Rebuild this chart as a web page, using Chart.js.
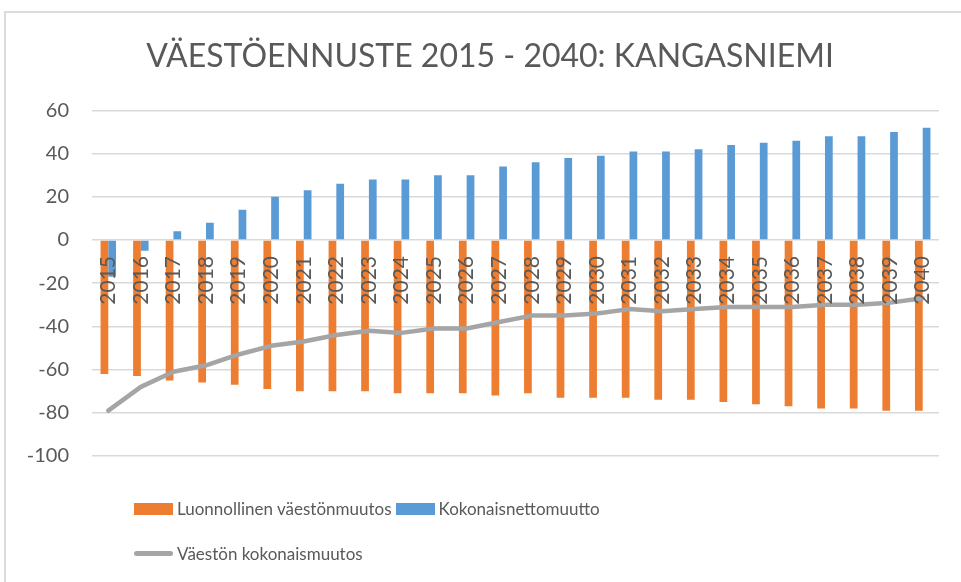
<!DOCTYPE html>
<html>
<head>
<meta charset="utf-8">
<script src="https://cdn.jsdelivr.net/npm/chart.js@4"></script>
<style>
  html, body { margin:0; padding:0; background:#fff; overflow:hidden; }
  #wrap { position:relative; width:961px; height:582px; overflow:hidden; }
  #frame { position:absolute; left:4px; top:11px; width:2000px; height:2000px; border:2px solid #dcdcdc; box-sizing:border-box; }
  #chart-box { position:absolute; left:0; top:0; width:980px; height:582px; }
  .legend-row { position:absolute; left:134px; display:flex; align-items:center; font-family:Lato, "Liberation Sans", sans-serif; font-size:17px; color:#595959; }
  .legend-item { display:flex; align-items:center; margin-right:4px; }
  .legend-swatch { width:39px; height:12px; margin-right:4px; }
  .legend-line { width:39px; height:5px; border-radius:3px; margin-right:4px; }
</style>
</head>
<body>
<div id="wrap">
  <div id="frame"></div>
  <div id="chart-box"><canvas id="chart"></canvas></div>
  <div class="legend-row" id="legend-1" style="top:498px;"></div>
  <div class="legend-row" id="legend-2" style="top:543px;"></div>
</div>
<script>
const years = ["2015","2016","2017","2018","2019","2020","2021","2022","2023","2024","2025","2026","2027",
  "2028","2029","2030","2031","2032","2033","2034","2035","2036","2037","2038","2039","2040"];
// Luonnollinen väestönmuutos
const natural = [-62,-63,-65,-66,-67,-69,-70,-70,-70,-71,-71,-71,-72,-71,-73,-73,-73,-74,-74,-75,-76,-77,-78,-78,-79,-79];
// Kokonaisnettomuutto
const netMigration = [-17,-5,4,8,14,20,23,26,28,28,30,30,34,36,38,39,41,41,42,44,45,46,48,48,50,52];
// Väestön kokonaismuutos
const totalChange = [-79,-68,-61,-58,-53,-49,-47,-44,-42,-43,-41,-41,-38,-35,-35,-34,-32,-33,-32,-31,-31,-31,-30,-30,-29,-27];

const yMin = -100, yMax = 60, yStep = 20;
const titleText = "VÄESTÖENNUSTE 2015 - 2040: KANGASNIEMI";
const fontFam = 'Lato, "Liberation Sans", sans-serif';
const textColor = "#595959";

const chart = new Chart(document.getElementById("chart"), {
  type: "bar",
  data: {
    labels: years,
    datasets: [
      { type:"bar", label:"Luonnollinen väestönmuutos", data:natural, backgroundColor:"#ED7D31",
        categoryPercentage:0.475, barPercentage:1.0, order:2 },
      { type:"bar", label:"Kokonaisnettomuutto", data:netMigration, backgroundColor:"#5B9BD5",
        categoryPercentage:0.475, barPercentage:1.0, order:2 },
      { type:"line", label:"Väestön kokonaismuutos", data:totalChange, borderColor:"#A5A5A5", backgroundColor:"#A5A5A5",
        borderWidth:4.5, pointRadius:0, tension:0, borderCapStyle:"round", borderJoinStyle:"round", order:1 }
    ]
  },
  options: {
    responsive:true,
    maintainAspectRatio:false,
    animation:false,
    devicePixelRatio:1,
    layout:{ padding:{ left:0, right:0, top:0, bottom:126 } },
    plugins:{
      legend:{ display:false },
      tooltip:{ enabled:false },
      title:{ display:true, text:titleText, color:textColor,
        font:{ family:fontFam, size:32, weight:"normal", lineHeight:1.2 },
        padding:{ top:37, bottom:35 } }
    },
    scales:{
      x:{
        position:{ y:0 },
        grid:{ display:false, drawTicks:false },
        border:{ display:false },
        // z:1 -> year labels are drawn over the bars, like the original
        ticks:{ z:1, color:textColor, font:{ family:fontFam, size:21 }, minRotation:90, maxRotation:90, padding:16, autoSkip:false }
      },
      y:{
        min:yMin, max:yMax,
        grid:{ color:"#d9d9d9", lineWidth:1.5, drawTicks:false },
        border:{ display:false },
        ticks:{ stepSize:yStep, color:textColor, font:{ family:fontFam, size:20 }, padding:23 },
        afterFit(scale){ scale.width = 92; }
      },
      // empty spacer on the right so the title centres like the original
      spacer:{
        type:"linear", position:"right", display:true,
        grid:{ display:false, drawTicks:false }, border:{ display:false }, ticks:{ display:false },
        afterFit(scale){ scale.width = 41; }
      }
    }
  }
});

function legendItem(ds){
  const item = document.createElement("div");
  item.className = "legend-item";
  const sw = document.createElement("div");
  sw.className = ds.type === "line" ? "legend-line" : "legend-swatch";
  sw.style.background = ds.backgroundColor;
  const tx = document.createElement("span");
  tx.textContent = ds.label;
  item.appendChild(sw);
  item.appendChild(tx);
  return item;
}
const dsets = chart.data.datasets;
document.getElementById("legend-1").appendChild(legendItem(dsets[0]));
document.getElementById("legend-1").appendChild(legendItem(dsets[1]));
document.getElementById("legend-2").appendChild(legendItem(dsets[2]));
</script>
</body>
</html>
